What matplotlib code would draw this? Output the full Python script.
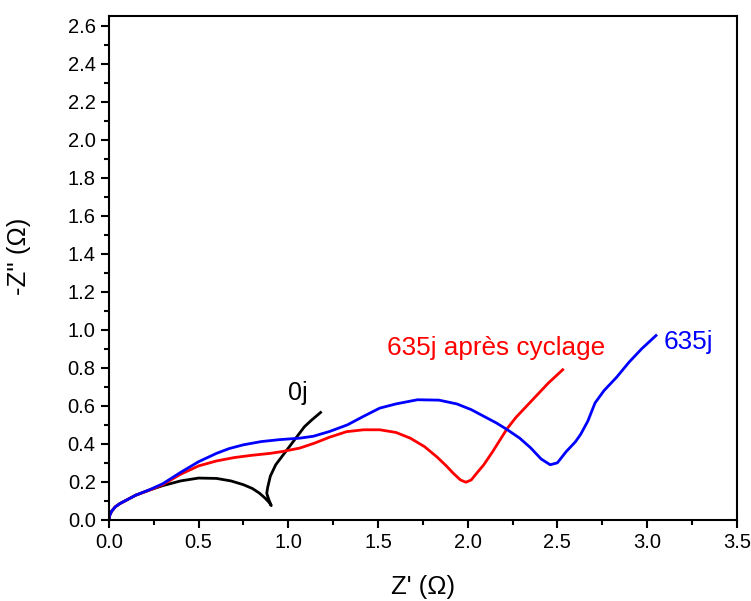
import numpy as np
import matplotlib
matplotlib.use("Agg")
import matplotlib.pyplot as plt
from matplotlib.ticker import MultipleLocator, FormatStrFormatter

plt.rcParams['font.family'] = ['Liberation Sans', 'DejaVu Sans']

# 0j (black)
x0 = [0.0, 0.005, 0.015, 0.035, 0.06, 0.1, 0.15, 0.23, 0.3, 0.4, 0.5, 0.6, 0.68, 0.75, 0.8, 0.84, 0.87, 0.895, 0.905, 0.89, 0.88, 0.885, 0.9, 0.93, 0.97, 1.01, 1.05, 1.09, 1.13, 1.18]
y0 = [0.0, 0.025, 0.045, 0.068, 0.085, 0.105, 0.13, 0.158, 0.18, 0.205, 0.22, 0.218, 0.205, 0.185, 0.165, 0.14, 0.115, 0.09, 0.075, 0.11, 0.14, 0.17, 0.23, 0.29, 0.34, 0.39, 0.44, 0.49, 0.525, 0.565]

# 635j (blue)
xb = [0.0, 0.005, 0.015, 0.035, 0.06, 0.1, 0.15, 0.23, 0.3, 0.4, 0.5, 0.6, 0.67, 0.75, 0.85, 0.95, 1.065, 1.14, 1.23, 1.33, 1.42, 1.51, 1.6, 1.72, 1.84, 1.94, 2.02, 2.09, 2.16, 2.22, 2.29, 2.35, 2.41, 2.46, 2.5, 2.55, 2.6, 2.63, 2.67, 2.71, 2.76, 2.83, 2.9, 2.97, 3.05]
yb = [0.0, 0.025, 0.045, 0.068, 0.085, 0.105, 0.13, 0.16, 0.19, 0.25, 0.306, 0.35, 0.375, 0.395, 0.412, 0.422, 0.43, 0.44, 0.465, 0.5, 0.545, 0.588, 0.61, 0.632, 0.63, 0.61, 0.58, 0.545, 0.51, 0.475, 0.43, 0.38, 0.32, 0.29, 0.30, 0.36, 0.41, 0.45, 0.52, 0.615, 0.68, 0.75, 0.83, 0.90, 0.97]

# 635j après cyclage (red)
xr = [0.0, 0.005, 0.015, 0.035, 0.06, 0.1, 0.15, 0.23, 0.3, 0.4, 0.5, 0.6, 0.7, 0.8, 0.9, 0.97, 1.065, 1.15, 1.23, 1.325, 1.42, 1.51, 1.6, 1.68, 1.76, 1.83, 1.88, 1.92, 1.96, 1.99, 2.02, 2.05, 2.09, 2.14, 2.18, 2.22, 2.27, 2.33, 2.39, 2.45, 2.53]
yr = [0.0, 0.025, 0.045, 0.068, 0.085, 0.105, 0.13, 0.158, 0.185, 0.24, 0.284, 0.31, 0.328, 0.34, 0.35, 0.36, 0.378, 0.405, 0.435, 0.464, 0.474, 0.474, 0.46, 0.43, 0.385, 0.33, 0.285, 0.245, 0.21, 0.198, 0.21, 0.245, 0.29, 0.36, 0.42, 0.48, 0.54, 0.6, 0.66, 0.72, 0.79]

fig = plt.figure(figsize=(7.51, 6.01), dpi=100)
ax = fig.add_axes([0.145, 0.135, 0.836, 0.838])

ax.plot(x0, y0, color='black', lw=2)
ax.plot(xr, yr, color='#ff0000', lw=2)
ax.plot(xb, yb, color='#0000ff', lw=2)

ax.text(1.0, 0.67, '0j', color='black', fontsize=18, ha='left', va='center')
ax.text(1.55, 0.905, '635j après cyclage', color='#ff0000', fontsize=18.8, ha='left', va='center')
ax.text(3.09, 0.935, '635j', color='#0000ff', fontsize=18.8, ha='left', va='center')

ax.set_xlim(0, 3.5)
ax.set_ylim(0, 2.65)
ax.xaxis.set_major_locator(MultipleLocator(0.5))
ax.xaxis.set_minor_locator(MultipleLocator(0.25))
ax.yaxis.set_major_locator(MultipleLocator(0.2))
ax.yaxis.set_minor_locator(MultipleLocator(0.1))
ax.xaxis.set_major_formatter(FormatStrFormatter('%.1f'))
ax.yaxis.set_major_formatter(FormatStrFormatter('%.1f'))
ax.tick_params(which='major', length=6, width=1.5, labelsize=14.5, direction='out')
ax.tick_params(which='minor', length=3.5, width=1.5, direction='out')
for s in ax.spines.values():
    s.set_linewidth(1.5)

ax.set_xlabel("Z' (\u03a9)", fontsize=18.5, va='center')
ax.xaxis.set_label_coords(0.5, -0.133)
ax.set_ylabel("-Z'' (\u03a9)", fontsize=18.5, va='center')
ax.yaxis.set_label_coords(-0.143, 0.523)

fig.savefig('out.png', dpi=100)
